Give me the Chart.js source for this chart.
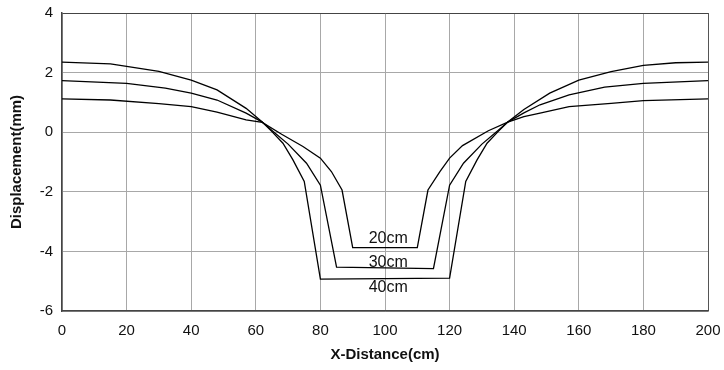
<!DOCTYPE html>
<html>
<head>
<meta charset="utf-8">
<script src="https://cdn.jsdelivr.net/npm/chart.js@4.4.1/dist/chart.umd.min.js"></script>
<style>
  html, body { margin: 0; padding: 0; background: #fff; }
  #wrap { width: 724px; height: 370px; }
</style>
</head>
<body>
<div id="wrap"><canvas id="chart"></canvas></div>
<script>
// series: x in cm, displacement in mm
const x20 = [0, 15, 30, 40, 48, 57, 62, 68, 74.6, 80, 83.4, 86.7, 90, 110, 113.3, 117, 120, 124, 132, 138, 143, 148, 157, 170, 180, 200];
const y20 = [1.12, 1.08, 0.96, 0.86, 0.67, 0.41, 0.33, -0.07, -0.48, -0.87, -1.32, -1.94, -3.87, -3.87, -1.94, -1.32, -0.87, -0.45, 0.05, 0.34, 0.52, 0.64, 0.86, 0.97, 1.06, 1.12];

const x30 = [0, 20, 32, 40, 48, 57, 62, 65, 70, 75.7, 80, 85, 115, 120, 124.3, 130, 135, 138, 143, 148, 157, 168, 180, 200];
const y30 = [1.73, 1.64, 1.48, 1.31, 1.08, 0.64, 0.34, 0.06, -0.4, -1.04, -1.78, -4.53, -4.58, -1.78, -1.04, -0.4, 0.06, 0.34, 0.65, 0.92, 1.25, 1.51, 1.64, 1.73];

const x40 = [0, 15, 20, 30, 40, 48, 57, 62, 65, 68.4, 71.5, 75, 80, 120, 125, 128.5, 131.6, 135, 138, 143, 151, 160, 170, 180, 190, 200];
const y40 = [2.35, 2.29, 2.21, 2.04, 1.75, 1.42, 0.8, 0.34, 0.02, -0.37, -0.93, -1.65, -4.93, -4.9, -1.65, -0.93, -0.37, 0.02, 0.34, 0.76, 1.31, 1.75, 2.03, 2.24, 2.33, 2.35];

const seriesNames = ['20cm', '30cm', '40cm'];
const xTicks = [0, 20, 40, 60, 80, 100, 120, 140, 160, 180, 200];
const yTicks = [-6, -4, -2, 0, 2, 4];

// where each series name sits inside the trench (data coordinates)
const nameSpots = [[101, -3.56], [101, -4.36], [101, -5.21]];

const FONT = '"Liberation Sans", Arial, sans-serif';
const pts = (xs, ys) => xs.map((v, i) => ({ x: v, y: ys[i] }));

const curveNames = {
  id: 'curveNames',
  afterDatasetsDraw(chart) {
    const c = chart.ctx;
    const sx = chart.scales.x, sy = chart.scales.y;
    c.save();
    c.font = '16px ' + FONT;
    c.fillStyle = '#111';
    c.textAlign = 'center';
    c.textBaseline = 'middle';
    seriesNames.forEach((n, i) => {
      c.fillText(n, sx.getPixelForValue(nameSpots[i][0]), sy.getPixelForValue(nameSpots[i][1]));
    });
    c.restore();
  }
};

const lineStyle = { borderColor: '#000', borderWidth: 1.3, pointRadius: 0, tension: 0, fill: false };

new Chart(document.getElementById('chart'), {
  type: 'line',
  data: {
    datasets: [
      { label: seriesNames[0], data: pts(x20, y20), ...lineStyle },
      { label: seriesNames[1], data: pts(x30, y30), ...lineStyle },
      { label: seriesNames[2], data: pts(x40, y40), ...lineStyle }
    ]
  },
  options: {
    responsive: true,
    maintainAspectRatio: false,
    animation: false,
    layout: { padding: { top: 13, right: 16, left: 0, bottom: 0 } },
    plugins: { legend: { display: false }, tooltip: { enabled: false } },
    scales: {
      x: {
        type: 'linear',
        min: 0, max: 200,
        afterBuildTicks: s => { s.ticks = xTicks.map(v => ({ value: v })); },
        afterFit: s => { s.height = 59; s.paddingRight = 0; s.paddingLeft = 0; },
        grid: {
          drawTicks: false,
          lineWidth: 1,
          color: ctx => ctx.tick && ctx.tick.value === 200 ? '#555' : '#a8a8a8'
        },
        border: { color: '#444', width: 1.5 },
        ticks: {
          padding: 11,
          color: '#111',
          font: { family: FONT, size: 15 }
        },
        title: {
          display: true,
          text: 'X-Distance(cm)',
          color: '#111',
          padding: { top: 4, bottom: 6 },
          font: { family: FONT, size: 15, weight: 'bold' }
        }
      },
      y: {
        type: 'linear',
        min: -6, max: 4,
        afterBuildTicks: s => { s.ticks = yTicks.map(v => ({ value: v })); },
        afterFit: s => { s.width = 62; s.paddingTop = 0; s.paddingBottom = 0; },
        grid: {
          drawTicks: false,
          lineWidth: 1,
          color: ctx => ctx.tick && ctx.tick.value === 4 ? '#444' : '#a8a8a8'
        },
        border: { color: '#444', width: 1.5 },
        ticks: {
          padding: 9,
          color: '#111',
          font: { family: FONT, size: 15 }
        },
        title: {
          display: true,
          text: 'Displacement(mm)',
          color: '#111',
          padding: { top: 8, bottom: 4 },
          font: { family: FONT, size: 15, weight: 'bold' }
        }
      }
    }
  },
  plugins: [curveNames]
});
</script>
</body>
</html>
